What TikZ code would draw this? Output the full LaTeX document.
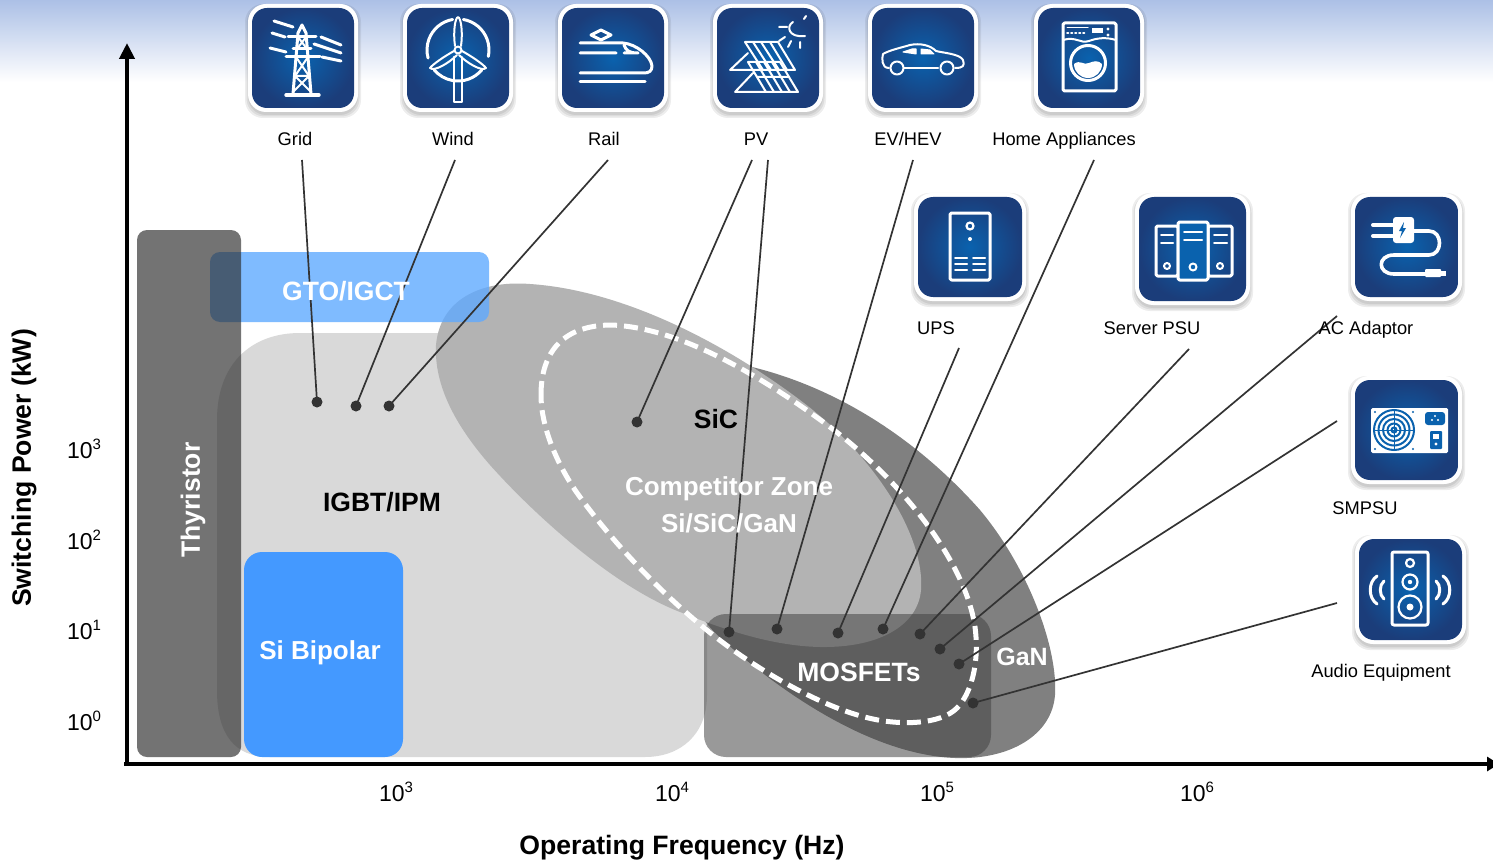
\documentclass[tikz,border=0pt]{standalone}
\usepackage{fontspec}
\setmainfont{Liberation Sans}
\usetikzlibrary{arrows.meta}
\definecolor{iconin}{HTML}{0A62AE}
\definecolor{iconout}{HTML}{1B3D7A}
\definecolor{linedark}{HTML}{333333}
\newcommand{\fs}[1]{\fontsize{#1}{#1}\selectfont}
\newcommand{\spow}[2]{10\raisebox{0.42em}{\fontsize{#2}{#2}\selectfont #1}}
\newcommand{\iconbase}[4]{%
  \foreach \s in {4,2.5,1}{\fill[black,opacity=.07,rounded corners=18] ({#1-\s+1},{#2-\s+4}) rectangle ({#1+#3+\s-1},{#2+#4+\s+2});}
  \fill[white,rounded corners=18] (#1,#2) rectangle ({#1+#3},{#2+#4});
  \shade[inner color=iconin,outer color=iconout,rounded corners=15] ({#1+4},{#2+4}) rectangle ({#1+#3-4},{#2+#4-4});
}
\tikzset{
  art/.style={draw=white,line width=2,line cap=round,line join=round},
  artb/.style={art,line width=3},
  dotn/.style={circle,fill=linedark,minimum size=11,inner sep=0},
  conn/.style={draw=linedark,line width=1.7},
  lab/.style={text=black,inner sep=0,font=\fs{18.3}},
  tick/.style={text=black,inner sep=0,font=\fs{23}},
  ttl/.style={text=black,inner sep=0,font=\fs{26.6}\bfseries},
  wbig/.style={text=white,inner sep=0,font=\fs{26.5}\bfseries},
}
\begin{document}
\begin{tikzpicture}[x=1pt,y=-1pt]
\useasboundingbox (0,0) rectangle (1493,861);
\fill[white] (0,0) rectangle (1493,861);
\shade[bottom color=white,top color={rgb,255:red,172;green,192;blue,230}] (0,0) rectangle (1493,82);
% regions
\fill[fill={rgb,255:red,217;green,217;blue,217}] (217,420) .. controls (217,365) and (250,333) .. (300,333) -- (500,333) -- (707,620) -- (707,695) .. controls (707,735) and (680,757) .. (645,757) -- (270,757) .. controls (235,757) and (217,735) .. (217,690) -- cycle;
\fill[fill={rgb,255:red,128;green,128;blue,128}] (700,358) .. controls (800,368) and (900,420) .. (980,510) .. controls (1030,570) and (1058,650) .. (1055,695) .. controls (1052,735) and (1010,760) .. (955,758) .. controls (880,755) and (800,705) .. (740,655) .. controls (720,638) and (705,625) .. (700,612) -- cycle;
\fill[fill={rgb,255:red,179;green,179;blue,179}] (436,345) .. controls (440,300) and (480,280) .. (530,284) .. controls (620,290) and (720,340) .. (800,400) .. controls (880,460) and (925,540) .. (921,590) .. controls (918,625) and (880,648) .. (820,647) .. controls (770,646) and (720,628) .. (680,612) .. controls (610,585) and (530,510) .. (490,465) .. controls (455,425) and (434,385) .. (436,345) -- cycle;
\fill[fill={rgb,255:red,96;green,170;blue,255},opacity=.8,rounded corners=10] (210,252) rectangle (489,322);
\fill[fill={rgb,255:red,43;green,43;blue,43},opacity=.66,rounded corners=10] (137,230) rectangle (241,757);
\fill[fill={rgb,255:red,68;green,153;blue,255},rounded corners=18] (244,552) rectangle (403,757);
\fill[fill={rgb,255:red,64;green,64;blue,64},opacity=.53,rounded corners=22] (704,614) rectangle (991,757);
% dashed zone
\draw[white,line width=5,dash pattern=on 14 off 7] (541,395) .. controls (541,350) and (565,325) .. (612,325) .. controls (680,328) and (760,375) .. (830,427) .. controls (900,480) and (965,560) .. (975,627) .. controls (980,665) and (970,695) .. (957,708) .. controls (940,725) and (900,725) .. (873,719) .. controls (830,710) and (775,680) .. (733,650) .. controls (670,605) and (610,540) .. (575,490) .. controls (555,460) and (541,425) .. (541,395) -- cycle;
% axes
\coordinate (orig) at (127,764);
\coordinate (ytip) at (127,43);
\coordinate (xtip) at (1499,764);
\draw[black,line width=4,-{Triangle[length=16,width=15]}] (orig) -- (ytip);
\draw[black,line width=4,-{Triangle[length=12,width=14]}] (124,764) -- (xtip);
% icons
\iconbase{248}{4}{110}{108}
\begin{scope}[shift={(248,4)}]
\draw[artb,line width=3.4] (38,91)--(71,91);
\draw[artb] (45,90)--(50,29)--(54,21)--(58,29)--(63,90);
\draw[artb] (40,33)--(68,33) (38,53)--(72,53) (45,45)--(63,45);
\draw[art] (50,33)--(59,45)--(49,45) (58,33)--(49,45) (48,53)--(61,72)--(47,72)--(60,53) (47,72)--(63,88) (61,72)--(45,88);
\draw[artb] (26,17)--(45,23) (24,29)--(37,33) (22,44)--(38,48) (73,33)--(93,41) (66,40)--(93,49) (74,53)--(93,57);
\end{scope}
\iconbase{403}{4}{110}{108}
\begin{scope}[shift={(403,4)}]
\draw[artb] (55,46) ++(-100:31) arc[start angle=-100,end angle=-195,radius=31];
\draw[artb] (55,46) ++(-80:31) arc[start angle=-80,end angle=12,radius=31];
\draw[artb] (55,46) ++(40:31) arc[start angle=40,end angle=140,radius=31];
\draw[art] (52,42) .. controls (50,28) and (52,14) .. (55,13) .. controls (58,14) and (60,28) .. (58,42);
\draw[art] (51,47) .. controls (42,52) and (30,60) .. (27,64) .. controls (31,68) and (46,59) .. (54,51);
\draw[art] (59,47) .. controls (68,52) and (80,60) .. (83,64) .. controls (79,68) and (64,59) .. (56,51);
\draw[art] (55,46) circle (3.5);
\draw[art] (51,53)--(51,98)--(59,98)--(59,53);
\end{scope}
\iconbase{558}{4}{110}{108}
\begin{scope}[shift={(558,4)}]
\draw[artb] (22,39)--(65,39) .. controls (78,40) and (93,52) .. (94,62) .. controls (94,67) and (91,69) .. (86,69) -- (22,69);
\draw[artb] (22,49)--(58,49) (66,41) .. controls (68,46) and (70,49) .. (80,49)-- (66,49);
\draw[artb] (22,78)--(87,78);
\draw[artb] (33,31)--(43,26)--(53,31)--(43,36)--cycle;
\end{scope}
\iconbase{713}{4}{110}{108}
\begin{scope}[shift={(713,4)}]
\draw[art] (32,38)--(65,38)--(82,66)--(50,66)--cycle;
\draw[art] (17,66)--(50,66) (17,66)--(35,49);
\draw[art] (35,58)--(67,58)--(85,88)--(53,88)--cycle (22,88)--(53,88) (22,88)--(40,69);
\draw[art] (40,38)--(58,66) (48,38)--(66,66) (57,38)--(74,66) (43,58)--(61,88) (51,58)--(69,88) (59,58)--(77,88) (44,73)--(76,73);
\draw[art] (80,18) .. controls (73,22) and (75,34) .. (92,32);
\draw[art] (66,23)--(74,23) (72,33)--(66,37) (78,37)--(75,43) (87,38)--(87,44) (93,12)--(91,15);
\end{scope}
\iconbase{868}{4}{110}{108}
\begin{scope}[shift={(868,4)}]
\draw[art] (21,64) .. controls (13,64) and (14,54) .. (15,50) .. controls (22,46) and (32,44) .. (42,41) .. controls (52,39) and (62,41) .. (68,47) .. controls (76,49) and (92,50) .. (95,56) .. controls (97,62) and (95,64) .. (87,64);
\draw[art] (36,64)--(70,64);
\draw[art] (29,64) circle (6.5) (79,64) circle (6.5);
\draw[art,fill=white,line width=1] (35,48)--(44,45)--(48,45)--(48,50)--cycle (53,45)--(62,46)--(66,50)--(53,50)--cycle;
\end{scope}
\iconbase{1034}{4}{110}{108}
\begin{scope}[shift={(1034,4)}]
\draw[artb,rounded corners=1.5] (29,19) rectangle (82,87);
\draw[art] (29,36) .. controls (42,32) and (46,40) .. (55,37) .. controls (63,34) and (72,33) .. (82,36);
\draw[artb] (54,59) circle (17.5);
\fill[white] (40,60) .. controls (46,55) and (50,62) .. (55,59) .. controls (60,57) and (64,56) .. (68,60) arc[start angle=0,end angle=180,radius=14] -- cycle;
\draw[art,line width=1] (33,24)--(54,24);
\draw[art,line width=1.6,dash pattern=on 1.5 off 2.5] (33,29)--(53,29);
\fill[white] (58,24) rectangle (69,29);
\fill[white] (74,25) circle (1.6) (74,31) circle (1.6);
\end{scope}
\iconbase{914}{193}{112}{108}
\begin{scope}[shift={(914,193)}]
\draw[artb,rounded corners=1.5] (36,20) rectangle (76,87);
\draw[artb,line width=2.2] (56,33) circle (3.5);
\fill[white] (56,46) circle (2);
\draw[art] (41,65)--(53,65) (59,65)--(71,65) (41,71)--(53,71) (59,71)--(71,71) (41,77)--(53,77) (59,77)--(71,77);
\end{scope}
\iconbase{1135}{193}{115}{112}
\begin{scope}[shift={(1135,193)}]
\draw[artb,rounded corners=1.5] (21,33) rectangle (43,83) (73,33) rectangle (97,83);
\fill[iconin] (43,29) rectangle (73,87);
\draw[artb,rounded corners=1.5] (43,29) rectangle (73,87);
\draw[art] (26,42)--(38,42) (26,50)--(38,50) (49,39)--(67,39) (49,47)--(67,47) (79,42)--(92,42) (79,50)--(92,50);
\draw[art] (32,73) circle (3) (58,74) circle (3.5) (85,73) circle (3);
\end{scope}
\iconbase{1351}{193}{111}{108}
\begin{scope}[shift={(1351,193)}]
\fill[white,rounded corners=3] (42,24) rectangle (63,50);
\draw[artb,line width=4] (22,32)--(42,32) (22,43)--(42,43);
\fill[iconin] (53,29)--(48,38)--(51,38)--(49,45)--(55,35)--(52,35)--cycle;
\draw[artb,line width=3.6] (61,38) -- (78,38) .. controls (92,38) and (92,62) .. (78,62) -- (43,62) .. controls (26,62) and (26,81) .. (43,81) -- (74,81);
\fill[white,rounded corners=1] (74,76) rectangle (90,84);
\fill[white] (90,78) rectangle (95,83);
\end{scope}
\iconbase{1351}{376}{111}{108}
\begin{scope}[shift={(1351,376)}]
\fill[white,rounded corners=1.5] (20,32) rectangle (97,77);
\foreach \r in {20,15.5,11,6.5,2.5}{\draw[iconin,line width=2] (43,54) circle (\r);}
\draw[iconin,line width=1] (23,54)--(63,54) (43,34)--(43,74);
\fill[iconin] (24,36) circle (1.2) (62,36) circle (1.2) (24,73) circle (1.2) (62,73) circle (1.2);
\fill[iconin,rounded corners=3] (74,36) rectangle (94,49);
\fill[white] (81,44) circle (1.2) (87,44) circle (1.2) (84,40) circle (1.2);
\fill[iconin,rounded corners=1] (79,55) rectangle (91,73);
\fill[white] (82,58) rectangle (88,63);
\fill[white] (85,68) circle (1.6);
\end{scope}
\iconbase{1355}{535}{111}{109}
\begin{scope}[shift={(1355,535)}]
\draw[artb,rounded corners=2] (37,17) rectangle (73,90);
\draw[artb,line width=2.2] (55,28) circle (4) (55,47) circle (7.5) (55,72) circle (11.5);
\fill[white] (55,47) circle (2.2) (55,72) circle (3.5);
\draw[artb] (29,46) .. controls (24,50) and (24,60) .. (29,64);
\draw[artb] (22,41) .. controls (13,47) and (13,63) .. (22,69);
\draw[artb] (81,46) .. controls (86,50) and (86,60) .. (81,64);
\draw[artb] (88,41) .. controls (97,47) and (97,63) .. (88,69);
\end{scope}
% connector ends
\coordinate (cGrid) at (302,160);
\coordinate (cWind) at (455,160);
\coordinate (cRail) at (608,160);
\coordinate (cPVa) at (752,160);
\coordinate (cPVb) at (768,160);
\coordinate (cEV) at (913,160);
\coordinate (cHome) at (1094,160);
\coordinate (cUPS) at (959,348);
\coordinate (cServer) at (1189,349);
\coordinate (cAC) at (1337,316);
\coordinate (cSM) at (1337,421);
\coordinate (cAudio) at (1337,603);
\node[dotn] (dGrid) at (317,402) {};
\node[dotn] (dWind) at (356,406) {};
\node[dotn] (dRail) at (389,406) {};
\node[dotn] (dPVa) at (637,422) {};
\node[dotn] (dPVb) at (729,632) {};
\node[dotn] (dEV) at (777,629) {};
\node[dotn] (dUPS) at (838,633) {};
\node[dotn] (dHome) at (883,629) {};
\node[dotn] (dServer) at (920,634) {};
\node[dotn] (dAC) at (940,649) {};
\node[dotn] (dSM) at (959,664) {};
\node[dotn] (dAudio) at (973,703) {};
\draw[conn] (cGrid) -- (dGrid.center);
\draw[conn] (cWind) -- (dWind.center);
\draw[conn] (cRail) -- (dRail.center);
\draw[conn] (cPVa) -- (dPVa.center);
\draw[conn] (cPVb) -- (dPVb.center);
\draw[conn] (cEV) -- (dEV.center);
\draw[conn] (cHome) -- (dHome.center);
\draw[conn] (cUPS) -- (dUPS.center);
\draw[conn] (cServer) -- (dServer.center);
\draw[conn] (cAC) -- (dAC.center);
\draw[conn] (cSM) -- (dSM.center);
\draw[conn] (cAudio) -- (dAudio.center);
% labels
\node[lab] (lGrid) at (295,139) {Grid};
\node[lab] (lWind) at (453,139) {Wind};
\node[lab] (lRail) at (604,139) {Rail};
\node[lab] (lPV) at (756,139) {PV};
\node[lab] (lEV) at (908,139) {EV/HEV};
\node[lab] (lHome) at (1064,141) {Home Appliances};
\node[lab] (lUPS) at (936,328) {UPS};
\node[lab] (lServer) at (1152,328) {Server PSU};
\node[lab] (lAC) at (1366,330) {AC Adaptor};
\node[lab] (lSM) at (1365,508) {SMPSU};
\node[lab] (lAudio) at (1381,673) {Audio Equipment};
\node[tick] (y3) at (84,449) {\spow{3}{15}};
\node[tick] (y2) at (84,540) {\spow{2}{15}};
\node[tick] (y1) at (84,630) {\spow{1}{15}};
\node[tick] (y0) at (84,721) {\spow{0}{15}};
\node[tick] (x3) at (396,792) {\spow{3}{15}};
\node[tick] (x4) at (672,792) {\spow{4}{15}};
\node[tick] (x5) at (937,792) {\spow{5}{15}};
\node[tick] (x6) at (1197,792) {\spow{6}{15}};
\node[ttl,rotate=90] (ty) at (24,468) {Switching Power (kW)};
\node[ttl] (tx) at (682,848) {Operating Frequency (Hz)};
\node[wbig,rotate=90] (tThy) at (193,500) {Thyristor};
\node[wbig] (tGto) at (346,291) {GTO/IGCT};
\node[wbig,text=black] (tIgbt) at (382,502) {IGBT/IPM};
\node[wbig,font=\fs{26}\bfseries] (tSib) at (320,653) {Si Bipolar};
\node[wbig,text=black] (tSic) at (716,419) {SiC};
\node[wbig,font=\fs{26}\bfseries] (tComp) at (729,489) {Competitor Zone};
\node[wbig,font=\fs{26}\bfseries] (tComp2) at (729,523) {Si/SiC/GaN};
\node[wbig] (tMos) at (859,672) {MOSFETs};
\node[wbig,font=\fs{25}\bfseries] (tGan) at (1022,657) {GaN};
\end{tikzpicture}
\end{document}
